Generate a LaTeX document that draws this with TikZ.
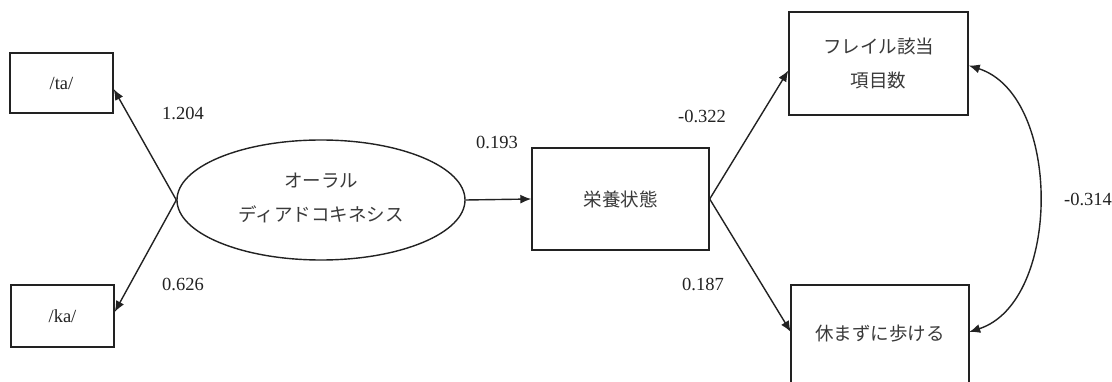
\documentclass[tikz,border=0pt]{standalone}
\usepackage{fontspec}
\setmainfont{Liberation Serif}
\newfontfamily\jpfont{Noto Sans CJK JP}
\usetikzlibrary{arrows.meta,shapes.geometric}
\definecolor{ink}{HTML}{222222}
\definecolor{jtext}{HTML}{3A3A3A}
\tikzset{
  box/.style={draw=ink, line width=1.4pt, inner sep=0pt, align=center},
  jp/.style={font=\jpfont\fontsize{18.5}{34}\selectfont, text=jtext},
  num/.style={font=\fontsize{18.5}{22}\selectfont, text=ink},
  arr/.style={draw=ink, line width=1.4pt, -{Latex[length=11pt,width=9pt]}},
  darr/.style={draw=ink, line width=1.4pt, {Latex[length=11pt,width=9pt]}-{Latex[length=11pt,width=9pt]}},
}
\begin{document}
\begin{tikzpicture}[x=1pt,y=-1pt]
\useasboundingbox (0,0) rectangle (1112,382);
\fill[white] (0,0) rectangle (1112,382);
% boxes
\node[box, minimum width=103pt, minimum height=60pt, num] (ta) at (61.5,83) {/ta/};
\node[box, minimum width=103pt, minimum height=62pt, num] (ka) at (62.5,316) {/ka/};
\node[draw=ink, line width=1.4pt, ellipse, minimum width=288pt, minimum height=120pt, inner sep=0pt] (oral) at (321,200) {};
\node[jp, align=center] (oraltext) at (321,198) {オーラル\\ディアドコキネシス};
\node[box, minimum width=177pt, minimum height=102pt, jp] (eiyo) at (620.5,199) {栄養状態};
\node[box, minimum width=179pt, minimum height=103pt, jp] (frail) at (878.5,63.5) {フレイル該当\\項目数};
\coordinate (wtl) at (791,285);
\coordinate (wtr) at (969,285);
\draw[ink, line width=1.4pt] (791,395) -- (wtl) -- (wtr) -- (969,395);
\node[inner sep=0pt, minimum width=178pt, minimum height=110pt] (walk) at (880,340) {};
\node[jp] (walkt) at (880,334) {休まずに歩ける};
% connectors
\draw[arr] (oral.west) -- ([yshift=-6pt]ta.east);
\draw[arr] (oral.west) -- ([yshift=4pt]ka.east);
\draw[arr] (oral.east) -- (eiyo.west);
\draw[arr] (eiyo.east) -- ([yshift=-7pt]frail.west);
\draw[arr] (eiyo.east) -- ([yshift=8pt]walk.west);
\draw[darr] ([yshift=-2pt]frail.east) .. controls (1062,95) and (1062,302) .. ([yshift=8pt]walk.east);
% labels
\node[num] (l1) at (183,113) {1.204};
\node[num] (l2) at (183,284) {0.626};
\node[num] (l3) at (497,142) {0.193};
\node[num] (l4) at (702,116) {-0.322};
\node[num] (l5) at (703,284) {0.187};
\node[num] (l6) at (1088,199) {-0.314};
\end{tikzpicture}
\end{document}
